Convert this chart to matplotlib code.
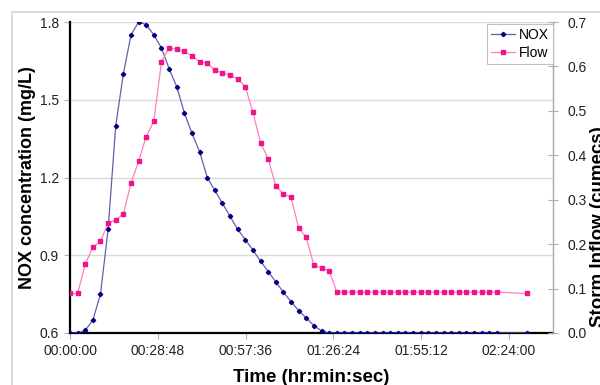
import matplotlib
matplotlib.use("Agg")
import matplotlib.pyplot as plt
from matplotlib.patches import Rectangle
from matplotlib.ticker import FuncFormatter

plt.rcParams['font.family'] = ['Liberation Sans', 'DejaVu Sans']

# time since start of event (minutes)
time_min = [0, 2.5, 5, 7.5, 10, 12.5, 15, 17.5, 20, 22.5,
            25, 27.5, 30, 32.5, 35, 37.5, 40, 42.5, 45, 47.5,
            50, 52.5, 55, 57.5, 60, 62.5, 65, 67.5, 70, 72.5,
            75, 77.5, 80, 82.5, 85, 87.5, 90, 92.5, 95, 97.5,
            100, 102.5, 105, 107.5, 110, 112.5, 115, 117.5, 120, 122.5,
            125, 127.5, 130, 132.5, 135, 137.5, 140, 150]

# NOX concentration (mg/L)
nox = [0.60, 0.60, 0.61, 0.65, 0.75, 1.00, 1.40, 1.60, 1.75, 1.80,
       1.79, 1.75, 1.70, 1.62, 1.55, 1.45, 1.37, 1.30, 1.20, 1.15,
       1.10, 1.05, 1.00, 0.96, 0.92, 0.877, 0.837, 0.797, 0.757, 0.721,
       0.686, 0.658, 0.628, 0.608, 0.60, 0.60, 0.60, 0.60, 0.60, 0.60,
       0.60, 0.60, 0.60, 0.60, 0.60, 0.60, 0.60, 0.60, 0.60, 0.60,
       0.60, 0.60, 0.60, 0.60, 0.60, 0.60, 0.60, 0.60]

# storm inflow (cumecs)
flow = [0.089, 0.089, 0.155, 0.193, 0.206, 0.248, 0.254, 0.268, 0.337, 0.387,
        0.442, 0.477, 0.611, 0.641, 0.639, 0.634, 0.624, 0.611, 0.607, 0.592,
        0.585, 0.580, 0.572, 0.554, 0.497, 0.428, 0.392, 0.331, 0.313, 0.305,
        0.236, 0.215, 0.152, 0.147, 0.140, 0.092, 0.092, 0.092, 0.092, 0.092,
        0.092, 0.092, 0.092, 0.092, 0.092, 0.092, 0.092, 0.092, 0.092, 0.092,
        0.092, 0.092, 0.092, 0.092, 0.092, 0.092, 0.092, 0.089]

x_ticks = [0, 28.8, 57.6, 86.4, 115.2, 144.0]
nox_ticks = [0.6, 0.9, 1.2, 1.5, 1.8]
flow_ticks = [0.0, 0.1, 0.2, 0.3, 0.4, 0.5, 0.6, 0.7]


def hms(m, pos=None):
    s = int(round(m * 60))
    return "%02d:%02d:%02d" % (s // 3600, (s % 3600) // 60, s % 60)


fig = plt.figure(figsize=(6, 3.85), dpi=100)
fig.patch.set_facecolor('white')
# light grey chart-area frame (Excel style)
fig.add_artist(Rectangle((12 / 600, -0.5), 2, 1.5 - 12 / 385, transform=fig.transFigure,
                         fill=False, edgecolor='#d4d4d4', lw=1.2))

ax = fig.add_axes([70 / 600, 52 / 385, 483 / 600, 311 / 385])
ax2 = ax.twinx()

ln1, = ax.plot(time_min, nox, color='#6060b0', lw=0.9, marker='D', ms=2.2,
               mfc='#000080', mec='#000080', label='NOX', zorder=3)
ln2, = ax2.plot(time_min, flow, color='#ff7ec0', lw=0.9, marker='s', ms=2.3,
                mfc='#f0148c', mec='#f0148c', label='Flow', zorder=3)

ax.set_xlim(0, 158.4)
ax.set_ylim(0.6, 1.8)
ax2.set_ylim(0, 0.7)
ax.set_xticks(x_ticks)
ax.xaxis.set_major_formatter(FuncFormatter(hms))
ax.set_yticks(nox_ticks)
ax.set_yticklabels(["%.1f" % v for v in nox_ticks])
ax2.set_yticks(flow_ticks)
ax2.set_yticklabels(["%.1f" % v for v in flow_ticks])

ax.grid(axis='y', color='#dadada', lw=1)
ax.set_axisbelow(True)

ax.spines['top'].set_visible(False)
ax2.spines['top'].set_visible(False)
ax.spines['left'].set_color('black')
ax.spines['left'].set_linewidth(1.6)
ax.spines['bottom'].set_color('black')
ax.spines['bottom'].set_linewidth(1.6)
ax2.spines['left'].set_visible(False)
ax2.spines['bottom'].set_visible(False)
ax2.spines['right'].set_color('#a8a8a8')
ax2.spines['right'].set_linewidth(1)
ax.spines['right'].set_visible(False)

ax.tick_params(axis='x', direction='out', length=4, color='#b0b0b0', labelsize=10,
               labelcolor='#222222', pad=4)
ax.tick_params(axis='y', direction='out', length=4, color='#b0b0b0', labelsize=10,
               labelcolor='#222222', pad=4)
ax2.tick_params(axis='y', direction='inout', length=7, color='#b0b0b0', labelsize=10,
                labelcolor='#222222', pad=7)

ax.set_xlabel('Time (hr:min:sec)', fontsize=13.5, fontweight='bold', labelpad=8)
ax.set_ylabel('NOX concentration (mg/L)', fontsize=13, fontweight='bold')
ax.yaxis.set_label_coords(-34 / 483, 0.5)
fig.text(0.983, 1 - 227 / 385, 'Storm Inflow (cumecs)', rotation=90, fontsize=13.5,
         fontweight='bold', ha='left', va='center')

leg = ax2.legend(handles=[ln1, ln2], loc='upper right', bbox_to_anchor=(1.0, 0.995),
                 fontsize=10, frameon=True, fancybox=False, framealpha=1,
                 edgecolor='#c0c0c0', borderpad=0.3, handlelength=1.7,
                 handletextpad=0.3, labelspacing=0.3, borderaxespad=0)
leg.get_frame().set_linewidth(0.8)

fig.savefig('out.png', dpi=100)
